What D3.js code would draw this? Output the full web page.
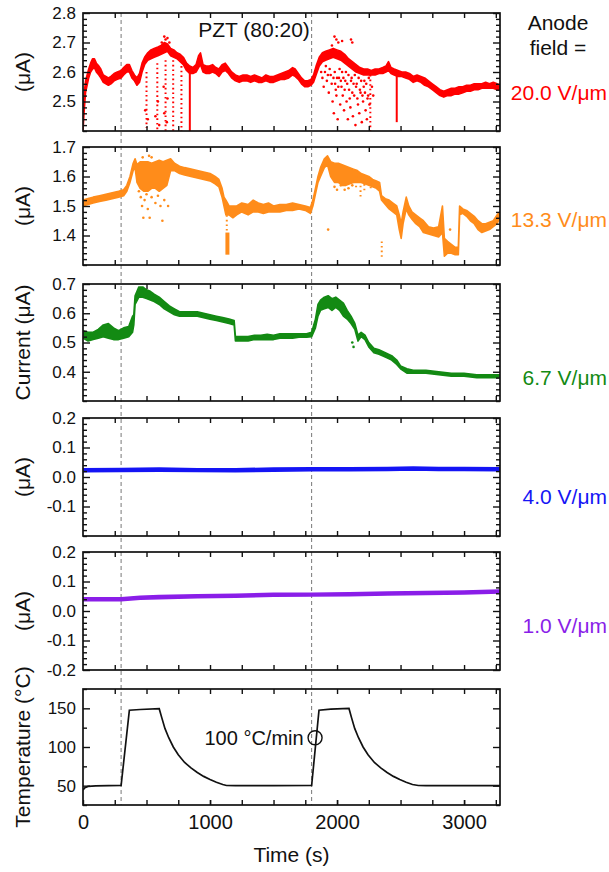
<!DOCTYPE html>
<html><head><meta charset="utf-8">
<script src="https://cdn.jsdelivr.net/npm/d3@7"></script>
<style>
body{margin:0;background:#fff}
svg text{font-family:"Liberation Sans",Arial,sans-serif;}
</style></head><body>
<svg id="c" width="609" height="872"></svg>
<script>
// ---------------- DATA ----------------
const timeDomain = [0, 3283];
const xTickLabels = [0, 1000, 2000, 3000];
const xMinorTicks = [250, 500, 750, 1000, 1250, 1500, 1750, 2000, 2250, 2500, 2750, 3000, 3250];
const markerTimes = [300, 1800];

const redTicks = [2.5, 2.6, 2.7, 2.8];
const orangeTicks = [1.4, 1.5, 1.6, 1.7];
const greenTicks = [0.4, 0.5, 0.6, 0.7];
const blueTicks = [-0.1, 0.0, 0.1, 0.2];
const purpleTicks = [-0.2, -0.1, 0.0, 0.1, 0.2];
const tempTicks = [50, 100, 150];

// [time, low, high] of each noisy current trace (µA)
const redBand = [[0,2.40,2.44],[8,2.46,2.52],[20,2.53,2.57],[45,2.58,2.61],[60,2.60,2.63],[75,2.61,2.645],[90,2.615,2.645],[105,2.60,2.63],[125,2.59,2.62],[140,2.58,2.61],[160,2.565,2.59],[180,2.56,2.585],[200,2.555,2.58],[220,2.56,2.585],[245,2.57,2.595],[270,2.575,2.60],[300,2.58,2.605],[320,2.59,2.615],[345,2.60,2.625],[365,2.60,2.625],[385,2.58,2.605],[405,2.57,2.59],[425,2.555,2.58],[445,2.565,2.595],[465,2.60,2.63],[485,2.625,2.65],[510,2.64,2.665],[535,2.645,2.675],[560,2.65,2.68],[590,2.655,2.685],[615,2.66,2.69],[640,2.665,2.70],[665,2.67,2.695],[690,2.655,2.68],[715,2.65,2.675],[740,2.645,2.665],[765,2.635,2.66],[790,2.625,2.65],[815,2.605,2.63],[840,2.595,2.62],[865,2.595,2.615],[890,2.60,2.625],[910,2.615,2.655],[925,2.625,2.665],[945,2.60,2.625],[970,2.595,2.62],[995,2.595,2.62],[1020,2.60,2.625],[1045,2.595,2.615],[1070,2.585,2.61],[1095,2.60,2.625],[1120,2.605,2.63],[1145,2.595,2.615],[1170,2.58,2.60],[1200,2.57,2.59],[1230,2.565,2.585],[1260,2.57,2.59],[1290,2.57,2.59],[1320,2.565,2.585],[1350,2.57,2.59],[1380,2.565,2.585],[1410,2.565,2.58],[1440,2.57,2.59],[1470,2.565,2.585],[1500,2.565,2.585],[1530,2.57,2.59],[1560,2.575,2.595],[1590,2.575,2.60],[1620,2.58,2.605],[1650,2.59,2.615],[1670,2.585,2.61],[1695,2.575,2.595],[1720,2.56,2.58],[1745,2.55,2.57],[1770,2.55,2.57],[1795,2.555,2.575],[1815,2.565,2.59],[1835,2.59,2.62],[1860,2.62,2.65],[1885,2.635,2.665],[1910,2.64,2.67],[1940,2.645,2.675],[1970,2.65,2.68],[2000,2.645,2.675],[2030,2.64,2.67],[2060,2.63,2.66],[2090,2.62,2.645],[2120,2.61,2.635],[2150,2.60,2.625],[2180,2.595,2.615],[2210,2.59,2.61],[2240,2.59,2.61],[2270,2.59,2.605],[2300,2.59,2.61],[2330,2.595,2.61],[2360,2.595,2.615],[2385,2.60,2.62],[2405,2.605,2.635],[2425,2.595,2.615],[2450,2.59,2.61],[2480,2.585,2.605],[2510,2.585,2.60],[2540,2.58,2.60],[2570,2.575,2.595],[2600,2.565,2.585],[2630,2.57,2.59],[2660,2.565,2.585],[2690,2.555,2.58],[2720,2.55,2.57],[2750,2.54,2.56],[2780,2.53,2.55],[2810,2.52,2.54],[2840,2.515,2.535],[2870,2.52,2.54],[2900,2.52,2.545],[2930,2.525,2.545],[2960,2.525,2.55],[2990,2.53,2.55],[3020,2.535,2.555],[3050,2.535,2.555],[3080,2.54,2.56],[3110,2.54,2.56],[3140,2.545,2.56],[3170,2.545,2.565],[3200,2.545,2.56],[3230,2.545,2.565],[3260,2.54,2.56],[3283,2.54,2.555]];
const redDotted = [[500,2.60,2.41],[585,2.63,2.40],[650,2.64,2.40],[710,2.64,2.40],[775,2.62,2.40],[2262,2.59,2.40]];
const redSolid = [[841,2.60,2.40],[2470,2.59,2.43]];
const redDots = [[490,2.47],[510,2.44],[570,2.45],[600,2.42],[590,2.50],[640,2.46],[660,2.43],[665,2.51],[635,2.55],[620,2.70],[640,2.72],[650,2.71],[665,2.715],[680,2.70],
 [1875,2.60],[1885,2.58],[1895,2.55],[1905,2.60],[1912,2.62],[1920,2.57],[1928,2.59],[1935,2.53],[1942,2.61],[1950,2.59],[1958,2.56],[1965,2.50],[1972,2.58],[1975,2.46],[1982,2.60],[1985,2.56],[1990,2.54],[1995,2.52],[2000,2.58],[2005,2.44],[2010,2.55],[2015,2.58],[2020,2.61],[2025,2.49],[2030,2.57],[2035,2.55],[2040,2.60],[2045,2.52],[2050,2.58],[2055,2.47],[2060,2.54],[2065,2.57],[2070,2.60],[2075,2.50],[2080,2.56],[2085,2.44],[2090,2.59],[2095,2.54],[2100,2.51],[2105,2.48],[2110,2.57],[2115,2.58],[2120,2.53],[2125,2.45],[2130,2.56],[2135,2.52],[2140,2.59],[2145,2.42],[2150,2.55],[2155,2.56],[2160,2.51],[2165,2.49],[2170,2.58],[2175,2.46],[2180,2.54],[2185,2.53],[2190,2.57],[2195,2.43],[2200,2.52],[2205,2.50],[2210,2.55],[2215,2.57],[2220,2.53],[2225,2.47],[2230,2.56],[2235,2.44],[2240,2.51],[2245,2.52],[2250,2.58],[2255,2.49],[2275,2.55],[2285,2.52],
 [1960,2.69],[1980,2.72],[1995,2.71],[2010,2.70],[2040,2.705],[2110,2.71],[2120,2.70]];

const orangeBand = [[0,1.50,1.52],[40,1.505,1.525],[80,1.51,1.53],[130,1.515,1.535],[180,1.52,1.54],[230,1.525,1.545],[280,1.53,1.55],[320,1.535,1.555],[345,1.55,1.57],[370,1.58,1.60],[395,1.62,1.645],[410,1.63,1.66],[425,1.58,1.64],[450,1.56,1.65],[480,1.55,1.65],[510,1.55,1.65],[540,1.56,1.645],[570,1.56,1.65],[600,1.55,1.655],[630,1.56,1.65],[660,1.57,1.655],[690,1.62,1.66],[720,1.62,1.645],[760,1.61,1.635],[800,1.605,1.63],[850,1.60,1.625],[900,1.595,1.62],[950,1.59,1.615],[1000,1.585,1.61],[1040,1.575,1.60],[1070,1.565,1.59],[1095,1.53,1.56],[1110,1.50,1.53],[1125,1.47,1.52],[1150,1.47,1.50],[1180,1.46,1.50],[1210,1.47,1.50],[1250,1.48,1.51],[1300,1.47,1.505],[1340,1.48,1.52],[1380,1.48,1.51],[1420,1.475,1.505],[1460,1.48,1.51],[1500,1.48,1.50],[1550,1.48,1.505],[1600,1.485,1.505],[1650,1.485,1.51],[1700,1.49,1.505],[1750,1.485,1.50],[1790,1.475,1.495],[1810,1.50,1.52],[1830,1.54,1.56],[1850,1.58,1.60],[1870,1.60,1.63],[1900,1.63,1.66],[1925,1.64,1.67],[1950,1.60,1.65],[1980,1.58,1.645],[2010,1.58,1.645],[2040,1.57,1.64],[2070,1.57,1.635],[2100,1.575,1.63],[2130,1.58,1.625],[2160,1.58,1.62],[2190,1.58,1.61],[2220,1.575,1.605],[2250,1.57,1.60],[2280,1.565,1.59],[2310,1.56,1.585],[2335,1.55,1.58],[2350,1.52,1.535],[2380,1.505,1.525],[2410,1.49,1.52],[2440,1.48,1.51],[2470,1.47,1.50],[2490,1.42,1.47],[2505,1.39,1.44],[2520,1.44,1.48],[2545,1.49,1.53],[2565,1.47,1.50],[2590,1.455,1.48],[2620,1.44,1.47],[2650,1.43,1.46],[2680,1.41,1.45],[2720,1.405,1.43],[2760,1.40,1.425],[2800,1.395,1.43],[2830,1.41,1.50],[2845,1.33,1.39],[2870,1.34,1.38],[2900,1.34,1.37],[2930,1.335,1.36],[2955,1.335,1.36],[2965,1.47,1.50],[2990,1.475,1.49],[3020,1.465,1.485],[3050,1.45,1.475],[3080,1.44,1.465],[3110,1.42,1.45],[3140,1.41,1.44],[3170,1.415,1.44],[3200,1.42,1.445],[3230,1.43,1.45],[3260,1.44,1.47],[3283,1.46,1.48]];
const orangeDotted = [[1132,1.50,1.41],[2352,1.38,1.325],[2150,1.60,1.56],[2185,1.60,1.53],[2215,1.59,1.55],[2265,1.58,1.56]];
const orangeSolid = [[1137,1.41,1.335]];
const orangeDots = [[440,1.55],[455,1.53],[465,1.50],[475,1.46],[485,1.52],[500,1.54],[510,1.49],[525,1.46],[540,1.53],[570,1.51],[590,1.535],[610,1.50],[625,1.45],[640,1.52],[670,1.50],[470,1.665],[520,1.67],[540,1.665],
 [1930,1.42],[1980,1.565],[2000,1.555],[2030,1.57],[2060,1.555],[2090,1.56],[2120,1.57],[2890,1.42]];

const greenBand = [[0,0.515,0.54],[40,0.505,0.535],[80,0.51,0.535],[120,0.515,0.545],[160,0.52,0.56],[200,0.515,0.565],[240,0.51,0.55],[280,0.51,0.54],[320,0.515,0.55],[360,0.52,0.555],[390,0.535,0.59],[400,0.56,0.595],[410,0.63,0.66],[440,0.655,0.69],[470,0.655,0.69],[500,0.65,0.68],[530,0.645,0.675],[560,0.64,0.665],[600,0.63,0.655],[640,0.615,0.64],[680,0.605,0.625],[720,0.595,0.615],[760,0.59,0.605],[800,0.59,0.605],[850,0.59,0.605],[900,0.59,0.605],[950,0.585,0.60],[1000,0.58,0.595],[1050,0.575,0.59],[1100,0.57,0.585],[1150,0.565,0.58],[1190,0.56,0.575],[1200,0.505,0.52],[1250,0.505,0.52],[1300,0.505,0.52],[1350,0.51,0.525],[1400,0.51,0.525],[1450,0.51,0.528],[1500,0.51,0.525],[1550,0.515,0.53],[1600,0.515,0.53],[1650,0.515,0.53],[1700,0.518,0.53],[1760,0.518,0.53],[1800,0.52,0.535],[1830,0.55,0.58],[1850,0.59,0.63],[1870,0.61,0.645],[1900,0.615,0.655],[1930,0.62,0.66],[1960,0.61,0.65],[1990,0.62,0.655],[2020,0.61,0.645],[2050,0.59,0.635],[2080,0.58,0.61],[2110,0.565,0.59],[2140,0.545,0.565],[2165,0.505,0.525],[2190,0.52,0.535],[2220,0.51,0.525],[2250,0.485,0.50],[2290,0.465,0.48],[2330,0.46,0.475],[2380,0.45,0.465],[2430,0.44,0.455],[2470,0.425,0.44],[2500,0.41,0.42],[2550,0.395,0.41],[2600,0.395,0.405],[2700,0.395,0.405],[2800,0.39,0.40],[2900,0.385,0.395],[3000,0.385,0.395],[3100,0.38,0.39],[3200,0.38,0.39],[3283,0.38,0.39]];
const greenDots = [[2130,0.485],[2120,0.50]];

const blueBand = [[0,0.018,0.028],[300,0.019,0.029],[600,0.02,0.03],[900,0.019,0.028],[1200,0.018,0.028],[1500,0.02,0.03],[1800,0.021,0.031],[2100,0.021,0.031],[2400,0.022,0.032],[2600,0.024,0.034],[2800,0.022,0.032],[3000,0.022,0.032],[3283,0.021,0.031]];
const purpleBand = [[0,0.035,0.045],[300,0.035,0.045],[450,0.04,0.05],[600,0.042,0.052],[900,0.045,0.055],[1200,0.047,0.057],[1500,0.05,0.06],[1800,0.051,0.06],[2100,0.052,0.062],[2400,0.054,0.064],[2700,0.056,0.066],[3000,0.058,0.068],[3283,0.061,0.071]];

// [time, temperature °C]
const temperature = [[0,44.5],[15,47.5],[40,49],[100,49.8],[200,50],[300,50.2],[365,147.5],[450,148.5],[600,149.5],[620,138],[645,124],[675,112],[711,100],[750,90],[800,80],[850,73],[900,67],[950,62],[1000,58],[1050,54.5],[1100,51.5],[1130,50.2],[1200,50],[1500,50],[1800,50.2],[1858,147.5],[1950,149],[2094,149.8],[2114,138],[2139,124],[2169,112],[2205,100],[2244,90],[2294,80],[2344,73],[2394,67],[2444,62],[2494,58],[2544,54.5],[2594,51.5],[2640,50.2],[2700,50],[3283,50]];
const rateMarker = [1827, 112];
const rateLabelAt = [1737, 102];

// ---------------- LAYOUT ----------------
const svg = d3.select("#c");
svg.append("rect").attr("width",609).attr("height",872).attr("fill","#fff");
const L = 83, R = 500;
const x = d3.scaleLinear().domain(timeDomain).range([L, R]);
const boxes = [[13,131],[147,265],[284,401],[418,536],[552,670],[689,805]];
const fmt1 = d => d.toFixed(1);
const panels = [
 {domain:[2.4,2.8], ticks:redTicks, minor:0.02, color:"#ff0000", band:redBand, dotted:redDotted, solid:redSolid, dots:redDots, title:"(μA)", label:"20.0 V/μm", labelY:100, fmt:fmt1},
 {domain:[1.3,1.7], ticks:orangeTicks, minor:0.02, color:"#ff8c1a", band:orangeBand, dotted:orangeDotted, solid:orangeSolid, dots:orangeDots, title:"(μA)", label:"13.3 V/μm", labelY:227, fmt:fmt1},
 {domain:[0.3,0.7], ticks:greenTicks, minor:0.02, color:"#138a13", band:greenBand, dots:greenDots, title:"Current (μA)", label:"6.7 V/μm", labelY:385, fmt:fmt1},
 {domain:[-0.2,0.2], ticks:blueTicks, minor:0.02, color:"#1515f5", band:blueBand, title:"(μA)", label:"4.0 V/μm", labelY:504, fmt:fmt1},
 {domain:[-0.2,0.2], ticks:purpleTicks, minor:0.02, color:"#8a1ee8", band:purpleBand, title:"(μA)", label:"1.0 V/μm", labelY:633, fmt:fmt1},
 {domain:[25,175], ticks:tempTicks, minor:25, color:"#111", temp:temperature, title:"Temperature (°C)", fmt:d3.format("d")}
];

// dashed markers (under data)
svg.append("g").selectAll("line").data(markerTimes).join("line")
  .attr("x1", d=>x(d)).attr("x2", d=>x(d)).attr("y1", boxes[0][0]).attr("y2", boxes[5][1])
  .attr("stroke","#777").attr("stroke-width",1).attr("stroke-dasharray","4,3");

const defs = svg.append("defs");
panels.forEach((p,i)=>{
  const [top,bot] = boxes[i];
  const y = d3.scaleLinear().domain(p.domain).range([bot, top]);
  const g = svg.append("g");
  defs.append("clipPath").attr("id","cl"+i).append("rect")
    .attr("x",L).attr("y",top).attr("width",R-L).attr("height",bot-top);
  const dg = g.append("g").attr("clip-path",`url(#cl${i})`);
  if (p.band) {
    dg.append("path").datum(p.band)
      .attr("d", d3.area().x(d=>x(d[0])).y0(d=>y(d[1])).y1(d=>y(d[2])))
      .attr("fill", p.color).attr("stroke", p.color).attr("stroke-width",1.6).attr("stroke-linejoin","round");
  }
  if (p.dotted) {
    dg.append("g").selectAll("line").data(p.dotted).join("line")
      .attr("x1", d=>x(d[0])).attr("x2", d=>x(d[0])).attr("y1", d=>y(d[1])).attr("y2", d=>y(d[2]))
      .attr("stroke", p.color).attr("stroke-width",2).attr("stroke-dasharray","1.6,3");
  }
  if (p.solid) {
    dg.append("g").selectAll("line").data(p.solid).join("line")
      .attr("x1", d=>x(d[0])).attr("x2", d=>x(d[0])).attr("y1", d=>y(d[1])).attr("y2", d=>y(d[2]))
      .attr("stroke", p.color).attr("stroke-width", i===1 ? 4 : 2);
  }
  if (p.dots) {
    dg.append("g").selectAll("circle").data(p.dots).join("circle")
      .attr("cx", d=>x(d[0])).attr("cy", d=>y(d[1])).attr("r",1.3).attr("fill", p.color);
  }
  if (p.temp) {
    dg.append("path").datum(p.temp)
      .attr("d", d3.line().x(d=>x(d[0])).y(d=>y(d[1])))
      .attr("fill","none").attr("stroke","#111").attr("stroke-width",1.7);
    g.append("circle").attr("cx", x(rateMarker[0])).attr("cy", y(rateMarker[1])).attr("r",7)
      .attr("fill","none").attr("stroke","#111").attr("stroke-width",1.4);
    g.append("text").attr("x", x(rateLabelAt[0])).attr("y", y(rateLabelAt[1]))
      .attr("text-anchor","end").attr("font-size",20).attr("fill","#111").text("100 °C/min");
  }

  // minor y ticks
  const n = Math.round((p.domain[1]-p.domain[0])/p.minor);
  const minorVals = d3.range(n+1).map(k => +(p.domain[0]+k*p.minor).toFixed(6))
     .filter(v => !p.ticks.some(t => Math.abs(t-v) < 1e-9));
  const style = s => { s.select(".domain").remove(); s.selectAll("line").attr("stroke","#111").attr("stroke-width",1.4); };
  g.append("g").attr("transform",`translate(${L},0)`)
    .call(d3.axisLeft(y).tickValues(minorVals).tickSize(-4).tickFormat("")).call(style);
  g.append("g").attr("transform",`translate(${R},0)`)
    .call(d3.axisRight(y).tickValues(minorVals).tickSize(-4).tickFormat("")).call(style);
  g.append("g").attr("transform",`translate(${R},0)`)
    .call(d3.axisRight(y).tickValues(p.ticks).tickSize(-7).tickFormat("")).call(style);
  const ax = g.append("g").attr("transform",`translate(${L},0)`)
    .call(d3.axisLeft(y).tickValues(p.ticks).tickSize(-7).tickPadding(7).tickFormat(p.fmt)).call(style);
  ax.selectAll("text").attr("font-size",17).attr("fill","#111").attr("font-family","Liberation Sans, Arial, sans-serif");
  // x ticks top and bottom
  g.append("g").attr("transform",`translate(0,${top})`)
    .call(d3.axisTop(x).tickValues(xMinorTicks).tickSize(-5).tickFormat("")).call(style);
  g.append("g").attr("transform",`translate(0,${bot})`)
    .call(d3.axisBottom(x).tickValues(xMinorTicks).tickSize(-5).tickFormat("")).call(style);
  if (i === 5) {
    const bx = g.append("g").attr("transform",`translate(0,${bot})`)
      .call(d3.axisBottom(x).tickValues(xTickLabels).tickSize(-5).tickPadding(10).tickFormat(d3.format("d"))).call(style);
    bx.selectAll("text").attr("font-size",20).attr("fill","#111").attr("font-family","Liberation Sans, Arial, sans-serif");
  }
  // frame
  g.append("rect").attr("x",L).attr("y",top).attr("width",R-L).attr("height",bot-top)
    .attr("fill","none").attr("stroke","#111").attr("stroke-width",1.7);
  // titles
  g.append("text").attr("transform",`translate(23,${(top+bot)/2}) rotate(-90)`)
    .attr("text-anchor","middle").attr("dy","0.35em").attr("font-size",21).attr("fill","#111").text(p.title);
  if (p.label) {
    g.append("text").attr("x",607).attr("y",p.labelY).attr("text-anchor","end")
      .attr("font-size",21).attr("fill",p.color).text(p.label);
  }
});

svg.append("text").attr("x",254).attr("y",37).attr("text-anchor","middle").attr("font-size",21).attr("fill","#111").text("PZT (80:20)");
svg.append("text").attr("x",558).attr("y",30).attr("text-anchor","middle").attr("font-size",21).attr("fill","#111").text("Anode");
svg.append("text").attr("x",558).attr("y",55).attr("text-anchor","middle").attr("font-size",21).attr("fill","#111").text("field =");
svg.append("text").attr("x",(L+R)/2).attr("y",862).attr("text-anchor","middle").attr("font-size",21).attr("fill","#111").text("Time (s)");
</script>
</body></html>
